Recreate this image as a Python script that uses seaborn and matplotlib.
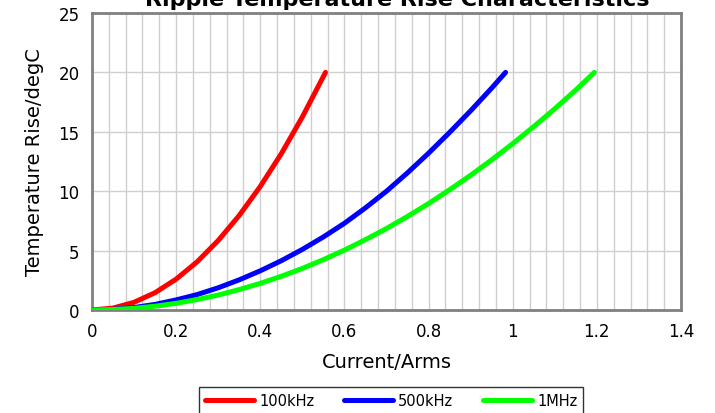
import matplotlib
matplotlib.use("Agg")
import matplotlib.pyplot as plt
import seaborn as sns
import pandas as pd
from matplotlib.ticker import MultipleLocator
from matplotlib.lines import Line2D

# Data
x_100k = [0, 0.05, 0.1, 0.15, 0.2, 0.25, 0.3, 0.35, 0.4, 0.45, 0.5, 0.555]
y_100k = [0, 0.16, 0.65, 1.46, 2.6, 4.06, 5.85, 7.96, 10.4, 13.16, 16.25, 20.0]

x_500k = [0, 0.05, 0.1, 0.15, 0.2, 0.25, 0.3, 0.35, 0.4, 0.45, 0.5, 0.55, 0.6, 0.65,
          0.7, 0.75, 0.8, 0.85, 0.9, 0.95, 0.983]
y_500k = [0, 0.05, 0.21, 0.47, 0.85, 1.3, 1.87, 2.54, 3.3, 4.15, 5.1, 6.15, 7.3, 8.6,
          10.0, 11.55, 13.2, 14.95, 16.77, 18.68, 20.0]

x_1m = [0, 0.05, 0.1, 0.15, 0.2, 0.25, 0.3, 0.35, 0.4, 0.45, 0.5, 0.55, 0.6, 0.65, 0.7,
        0.75, 0.8, 0.85, 0.9, 0.95, 1.0, 1.05, 1.1, 1.15, 1.194]
y_1m = [0, 0.04, 0.14, 0.32, 0.56, 0.88, 1.26, 1.72, 2.24, 2.84, 3.5, 4.24, 5.04, 5.92, 6.86,
        7.88, 8.96, 10.12, 11.34, 12.64, 14.0, 15.44, 16.94, 18.52, 20.0]

series_names = ["100kHz", "500kHz", "1MHz"]
series_colors = ["#ff0000", "#0000ff", "#00ff00"]

x_ticks = [0, 0.2, 0.4, 0.6, 0.8, 1.0, 1.2, 1.4]
x_tick_labels = ["0", "0.2", "0.4", "0.6", "0.8", "1", "1.2", "1.4"]
y_ticks = [0, 5, 10, 15, 20, 25]

frames = []
for name, xs, ys in zip(series_names, [x_100k, x_500k, x_1m], [y_100k, y_500k, y_1m]):
    frames.append(pd.DataFrame({"Current": xs, "Rise": ys, "Series": name}))
df = pd.concat(frames, ignore_index=True)

sns.set_theme(style="white")
plt.rcParams['font.family'] = ['DejaVu Sans']

fig = plt.figure(figsize=(7.15, 4.14), dpi=100)
ax = fig.add_axes([92/715, 1 - 311/414, (681 - 92)/715, (311 - 14)/414])

sns.lineplot(data=df, x="Current", y="Rise", hue="Series", hue_order=series_names,
             palette=series_colors, linewidth=3.6, ax=ax, sort=False, estimator=None,
             solid_capstyle="round", solid_joinstyle="round", legend=False, zorder=3)

ax.set_xlim(0, 1.4)
ax.set_ylim(0, 25)
ax.set_xticks(x_ticks)
ax.set_xticklabels(x_tick_labels)
ax.set_yticks(y_ticks)
ax.xaxis.set_minor_locator(MultipleLocator(0.04))
ax.grid(which="both", axis="x", color="#cfcfcf", linewidth=1.0)
ax.grid(which="major", axis="y", color="#cfcfcf", linewidth=1.0)
ax.tick_params(axis="both", which="both", length=0, labelsize=12, colors="#000000", pad=9)
for s in ax.spines.values():
    s.set_color("#808080")
    s.set_linewidth(2)
    s.set_visible(True)

ax.set_xlabel("Current/Arms", fontsize=14, labelpad=8, color="#000000")
ax.set_ylabel("Temperature Rise/degC", fontsize=14, labelpad=10, color="#000000")

fig.text(397/715, 1 - 0/414, "Ripple Temperature Rise Characteristics", ha="center",
         va="center", fontsize=16, fontweight="bold", color="#000000")

handles = [Line2D([0], [0], color=c, linewidth=3.6) for c in series_colors]
leg = fig.legend(handles, series_names, loc="upper center", ncol=3,
                 bbox_to_anchor=(391/715, 1 - 388/414), frameon=True, fancybox=False,
                 fontsize=10.5, handlelength=3.4, columnspacing=2.0, borderpad=0.4,
                 handletextpad=0.35, borderaxespad=0, labelcolor="#000000")
leg.get_frame().set_edgecolor("#000000")
leg.get_frame().set_linewidth(1)

fig.savefig("out.png", dpi=100)
